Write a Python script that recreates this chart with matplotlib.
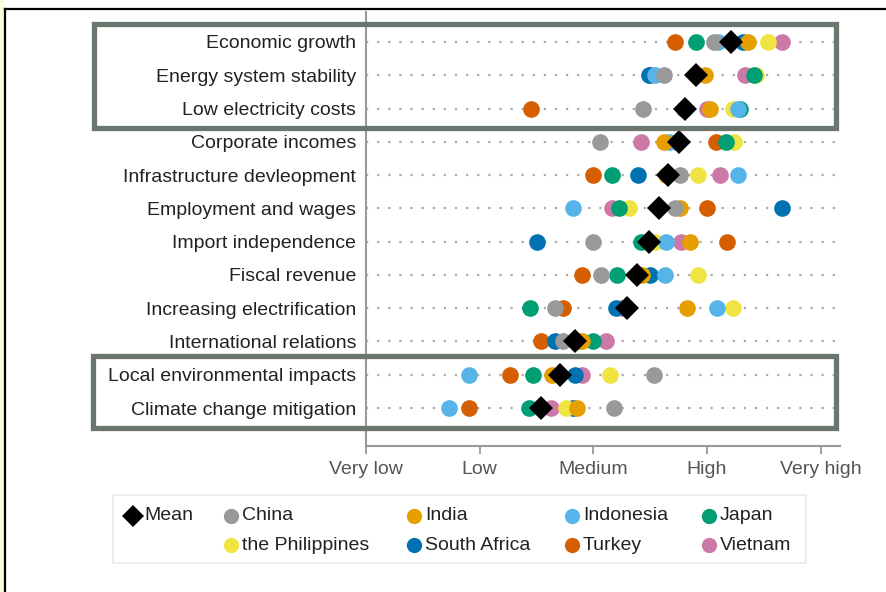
import matplotlib
matplotlib.use("Agg")
import matplotlib.pyplot as plt
from matplotlib.patches import Rectangle
from matplotlib.lines import Line2D

plt.rcParams['font.family'] = ['Liberation Sans', 'DejaVu Sans']

# categories, top to bottom
criteria = ["Economic growth", "Energy system stability", "Low electricity costs",
            "Corporate incomes", "Infrastructure devleopment", "Employment and wages",
            "Import independence", "Fiscal revenue", "Increasing electrification",
            "International relations", "Local environmental impacts",
            "Climate change mitigation"]

level_ticks = [1, 2, 3, 4, 5]
level_labels = ["Very low", "Low", "Medium", "High", "Very high"]

# scores per country (1 = very low ... 5 = very high), same order as criteria
china = [4.06, 3.62, 3.44, 3.06, 3.76, 3.72, 3.00, 3.07, 2.66, 2.73, 3.53, 3.18]
india = [4.36, 3.98, 4.03, 3.62, 3.64, 3.76, 3.85, 3.43, 3.82, 2.90, 2.64, 2.86]
indonesia = [4.10, 3.54, 4.27, 3.67, 4.27, 2.82, 3.64, 3.63, 4.09, 2.86, 1.91, 1.73]
japan = [3.90, 4.41, 4.29, 4.17, 3.16, 3.23, 3.42, 3.21, 2.44, 3.00, 2.47, 2.43]
philippines = [4.54, 4.43, 4.23, 4.24, 3.92, 3.31, 3.54, 3.92, 4.23, 2.88, 3.15, 2.76]
south_africa = [4.32, 3.49, 3.80, 3.74, 3.39, 4.66, 2.50, 3.50, 3.20, 2.66, 2.84, 2.82]
turkey = [3.72, 3.50, 2.45, 4.08, 3.00, 4.00, 4.18, 2.90, 2.73, 2.54, 2.27, 1.91]
vietnam = [4.66, 4.33, 4.00, 3.42, 4.11, 3.16, 3.77, 3.38, 3.25, 3.11, 2.90, 2.63]
mean = [4.21, 3.90, 3.81, 3.75, 3.66, 3.58, 3.49, 3.38, 3.30, 2.84, 2.71, 2.54]

countries = ["China", "India", "Indonesia", "Japan", "the Philippines",
             "South Africa", "Turkey", "Vietnam"]
scores = [china, india, indonesia, japan, philippines, south_africa, turkey, vietnam]
colors = ["#999999", "#E69F00", "#56B4E9", "#009E73", "#F0E442",
          "#0072B2", "#D55E00", "#CC79A7"]

W, H = 886, 592
fig = plt.figure(figsize=(W / 100, H / 100), dpi=100)


def fx(x):
    return x / W


def fy(y):
    return 1 - y / H


ax = fig.add_axes([fx(366), fy(446), fx(840) - fx(366), fy(12) - fy(446)])
ypos = list(range(len(criteria)))

ax.hlines(ypos, 1, 5.17, colors="#aaaaaa", linestyles=(0, (1, 4)), linewidth=1.6, zorder=1)

# reverse order so that China ends on top, like the original
for name, vals, col in reversed(list(zip(countries, scores, colors))):
    ax.plot(vals, ypos, "o", color=col, markersize=12, markeredgewidth=0, zorder=3)
ax.plot(mean, ypos, "D", color="black", markersize=12, markeredgewidth=0, zorder=4)

ax.set_xlim(1, 5.17)
ax.set_ylim(len(criteria) - 1 + 1.14, -0.9)
ax.set_yticks(ypos)
ax.set_yticklabels(criteria, fontsize=14, color="#222222")
ax.set_xticks(level_ticks)
ax.set_xticklabels(level_labels, fontsize=14, color="#555555")
ax.tick_params(axis="y", length=0, pad=7)
ax.tick_params(axis="x", length=6, width=1.3, color="#999999", pad=5)
for s in ["top", "right"]:
    ax.spines[s].set_visible(False)
for s in ["left", "bottom"]:
    ax.spines[s].set_color("#999999")
    ax.spines[s].set_linewidth(1.5)

# highlight boxes
box_col = "#6b776d"
for x0, y0, x1, y1 in [(93.5, 24.5, 835.5, 128.5), (92.5, 355.5, 836, 427.5)]:
    fig.add_artist(Rectangle((fx(x0), fy(y1)), fx(x1) - fx(x0), fy(y0) - fy(y1),
                             fill=False, edgecolor=box_col, linewidth=3.8,
                             transform=fig.transFigure, zorder=10))

# screenshot frame
fig.add_artist(Rectangle((0, 0), fx(4), 1, facecolor="#fdf9dc", edgecolor="none",
                         transform=fig.transFigure, zorder=0))
fig.add_artist(Line2D([fx(5), fx(5)], [0, fy(9)], color="black", linewidth=1.6,
                      transform=fig.transFigure))
fig.add_artist(Line2D([fx(5), 1], [fy(9), fy(9)], color="black", linewidth=1.6,
                      transform=fig.transFigure))

# legend, drawn by hand to keep the original layout
fig.add_artist(Rectangle((fx(113), fy(563)), fx(806) - fx(113), fy(495) - fy(563),
                         fill=False, edgecolor="#e4ecee", linewidth=1.2,
                         transform=fig.transFigure))
leg_x = [231, 414, 572, 709]
leg_y = [516, 545]
fig.add_artist(Line2D([fx(133)], [fy(516)], marker="D", color="black", markersize=11,
                      markeredgewidth=0, transform=fig.transFigure))
fig.text(fx(144), fy(516), "Mean", fontsize=14, color="#222222", va="center", ha="left")
for i, (name, col) in enumerate(zip(countries, colors)):
    x = leg_x[i % 4]
    y = leg_y[i // 4]
    fig.add_artist(Line2D([fx(x)], [fy(y)], marker="o", color=col, markersize=11,
                          markeredgewidth=0, transform=fig.transFigure))
    fig.text(fx(x + 11), fy(y), name, fontsize=14, color="#222222", va="center", ha="left")

fig.savefig("out.png", dpi=100)
